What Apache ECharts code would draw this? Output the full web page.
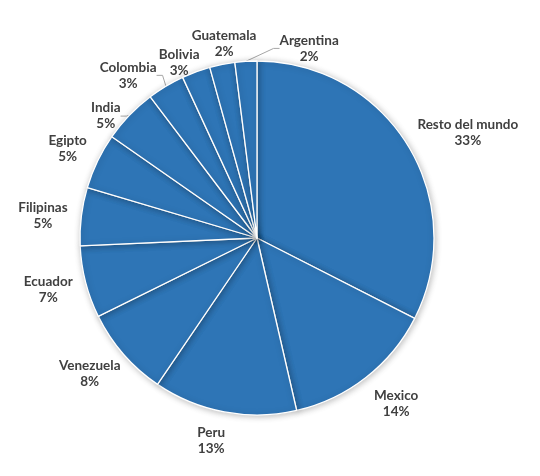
<!DOCTYPE html>
<html>
<head>
<meta charset="utf-8">
<script src="https://cdn.jsdelivr.net/npm/echarts@6/dist/echarts.min.js"></script>
<style>html,body{margin:0;padding:0;background:#fff;}#c{width:540px;height:476px;}</style>
</head>
<body>
<div id="c"></div>
<script>
const categories = ['Resto del mundo','Mexico','Peru','Venezuela','Ecuador','Filipinas','Egipto','India','Colombia','Bolivia','Guatemala','Argentina'];
const values = [32.5, 13.9, 13.1, 8.2, 6.6, 5.3, 5.1, 5.0, 3.4, 2.6, 2.3, 2.0];

// label styling (not data): which labels get a leader line, and small nudges like the original layout
const leaderLines = ['India','Colombia','Argentina'];
const labelNudge = {
  'Resto del mundo': [5, 2],
  'Mexico': [8, 3],
  'Peru': [-8, 0],
  'Filipinas': [0, 3],
  'Argentina': [66, 16],
  'Guatemala': [11, 8],
  'Bolivia': [-5, 18],
  'Colombia': [-16, 14],
  'India': [-3, 21]
};

const CX = 257, CY = 238, R = 177, GAP = 14;
const total = values.reduce((a, b) => a + b, 0);
const midAngles = [];
(function () {
  let acc = 0;
  values.forEach(v => { midAngles.push((acc + v / 2) / total * Math.PI * 2); acc += v; });
})();

const chart = echarts.init(document.getElementById('c'));
const data = categories.map((n, i) => ({
  name: n,
  value: values[i],
  labelLine: { show: leaderLines.indexOf(n) >= 0 }
}));
chart.setOption({
  animation: false,
  backgroundColor: '#ffffff',
  series: [{
    type: 'pie',
    center: [CX, CY],
    radius: R,
    startAngle: 90,
    clockwise: true,
    avoidLabelOverlap: false,
    data: data,
    itemStyle: {
      color: '#2E75B6',
      borderColor: '#ffffff',
      borderWidth: 1.3,
      shadowBlur: 6,
      shadowOffsetX: 1,
      shadowOffsetY: 1,
      shadowColor: 'rgba(0,0,0,0.25)'
    },
    label: {
      show: true,
      position: 'outside',
      formatter: p => '{a|' + p.name + '}\n{a|' + Math.round(p.percent) + '%}',
      rich: {
        a: { fontFamily: 'Lato', fontWeight: 'bold', fontSize: 13.5, color: '#404040', lineHeight: 16, align: 'center' }
      }
    },
    labelLine: {
      length: 8,
      length2: 6,
      lineStyle: { color: '#a6a6a6', width: 1 }
    },
    labelLayout: function (params) {
      const i = params.dataIndex;
      const a = midAngles[i];
      const dx = Math.sin(a), dy = -Math.cos(a);
      const w = params.labelRect.width, h = params.labelRect.height;
      let x = CX + dx * (R + GAP) + dx * w / 2;
      let y = CY + dy * (R + GAP) + dy * h / 2;
      const nudge = labelNudge[categories[i]];
      if (nudge) { x += nudge[0]; y += nudge[1]; }
      return { x: x, y: y, align: 'center', verticalAlign: 'middle' };
    }
  }]
});
</script>
</body>
</html>
